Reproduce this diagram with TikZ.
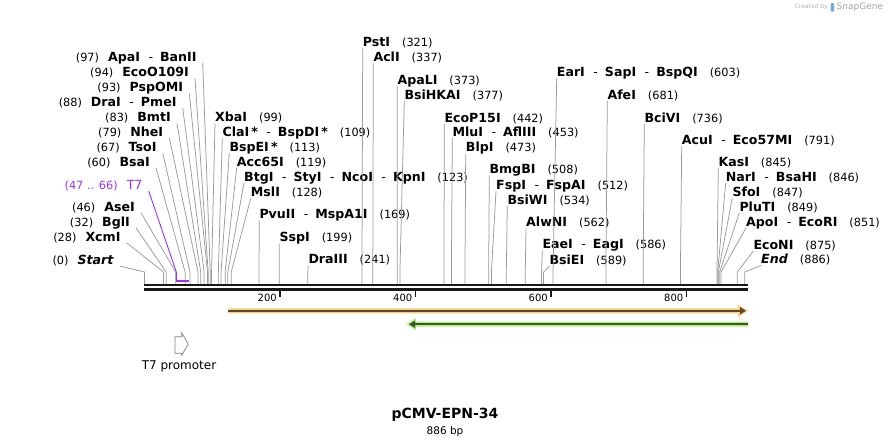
\documentclass[tikz,border=0pt]{standalone}
\usepackage{fontspec}
\setmainfont{DejaVu Sans}
\usetikzlibrary{arrows.meta,positioning}
\definecolor{cutgray}{RGB}{155,155,155}
\definecolor{tsevenpurple}{RGB}{155,50,245}
\definecolor{orangeband}{RGB}{251,203,128}
\definecolor{orangecore}{RGB}{92,74,44}
\definecolor{greenband}{RGB}{178,240,128}
\definecolor{greencore}{RGB}{62,84,44}
\definecolor{snapblue}{RGB}{110,170,225}
\newcommand{\enzsize}{\fontsize{12.6}{14}\selectfont}
\newcommand{\enzn}[1]{\textbf{#1}}
\newcommand{\enzc}[1]{{\fontsize{11.3}{13}\selectfont(#1)}}
\newcommand{\dsh}{\hspace{8.5pt}-\hspace{7pt}}
\newcommand{\enzgap}{\hspace{12pt}}
\tikzset{
     enz/.style={inner sep=0pt, font=\enzsize, yshift=-4.6pt},
     enzleft/.style={enz, anchor=base east},
     enzright/.style={enz, anchor=base west},
     cutline/.style={cutgray, line width=0.75pt},
     backbone/.style={black!90},
     ticklbl/.style={inner sep=0pt, anchor=east, font=\fontsize{10}{12}\selectfont},
    }

\begin{document}
\begin{tikzpicture}[x=1pt,y=-1pt]
        \useasboundingbox[fill=white] (0,0) rectangle (892,447);

        \node [enzleft] (apa)    at (196.7,56.7)  {\enzc{97}\hspace{9pt}\enzn{ApaI}\dsh\enzn{BanII}};
        \node [enzleft] (eco109) at (189,72.3)    {\enzc{94}\hspace{9pt}\enzn{EcoO109I}};
        \node [enzleft] (psp)    at (183.3,87.3)  {\enzc{93}\hspace{9pt}\enzn{PspOMI}};
        \node [enzleft] (dra)    at (176.7,101.7) {\enzc{88}\hspace{9pt}\enzn{DraI}\dsh\enzn{PmeI}};
        \node [enzleft] (bmt)    at (171,117.3)   {\enzc{83}\hspace{9pt}\enzn{BmtI}};
        \node [enzleft] (nhe)    at (163.3,131.7) {\enzc{79}\hspace{9pt}\enzn{NheI}};
        \node [enzleft] (tso)    at (156.7,146.7) {\enzc{67}\hspace{9pt}\enzn{TsoI}};
        \node [enzleft] (bsa)    at (150,161.7)   {\enzc{60}\hspace{9pt}\enzn{BsaI}};
        \node [enzleft, text=tsevenpurple] (tseven) at (142.7,185) {\enzc{47 .. 66}\hspace{9pt}T7};
        \node [enzleft] (ase)    at (135,206.7)   {\enzc{46}\hspace{9pt}\enzn{AseI}};
        \node [enzleft] (bgl)    at (130,221.7)   {\enzc{32}\hspace{9pt}\enzn{BglI}};
        \node [enzleft] (xcm)    at (120.7,236.7) {\enzc{28}\hspace{9pt}\enzn{XcmI}};
        \node [enzleft] (start)  at (114,260)     {\enzc{0}\hspace{9pt}\enzn{\itshape Start}};

        \node [enzright] (xba)    at (215,117.3)   {\enzn{XbaI}\enzgap\enzc{99}};
        \node [enzright] (cla)    at (222.3,131.7) {\enzn{ClaI\,*}\dsh\enzn{BspDI\,*}\enzgap\enzc{109}};
        \node [enzright] (bspe)   at (229.3,146.7) {\enzn{BspEI\,*}\enzgap\enzc{113}};
        \node [enzright] (acc)    at (236.7,161.7) {\enzn{Acc65I}\enzgap\enzc{119}};
        \node [enzright] (btg)    at (244,176.7)   {\enzn{BtgI}\dsh\enzn{StyI}\dsh\enzn{NcoI}\dsh\enzn{KpnI}\enzgap\enzc{123}};
        \node [enzright] (msl)    at (250.7,192.3) {\enzn{MslI}\enzgap\enzc{128}};
        \node [enzright] (pvu)    at (259.3,214.3) {\enzn{PvuII}\dsh\enzn{MspA1I}\enzgap\enzc{169}};
        \node [enzright] (ssp)    at (279.3,237.3) {\enzn{SspI}\enzgap\enzc{199}};
        \node [enzright] (draiii) at (308.3,259.3) {\enzn{DraIII}\enzgap\enzc{241}};
        \node [enzright] (pst)    at (362.7,42.3)  {\enzn{PstI}\enzgap\enzc{321}};
        \node [enzright] (acl)    at (373.3,57.3)  {\enzn{AclI}\enzgap\enzc{337}};
        \node [enzright] (apali)  at (397.3,80)    {\enzn{ApaLI}\enzgap\enzc{373}};
        \node [enzright] (bsihk)  at (404.3,95)    {\enzn{BsiHKAI}\enzgap\enzc{377}};
        \node [enzright] (ecop)   at (444.3,117.7) {\enzn{EcoP15I}\enzgap\enzc{442}};
        \node [enzright] (mlu)    at (452.3,131.7) {\enzn{MluI}\dsh\enzn{AflIII}\enzgap\enzc{453}};
        \node [enzright] (blp)    at (465.7,147.3) {\enzn{BlpI}\enzgap\enzc{473}};
        \node [enzright] (bmg)    at (489.3,169.3) {\enzn{BmgBI}\enzgap\enzc{508}};
        \node [enzright] (fsp)    at (496,185)     {\enzn{FspI}\dsh\enzn{FspAI}\enzgap\enzc{512}};
        \node [enzright] (bsiwi)  at (507.3,200)   {\enzn{BsiWI}\enzgap\enzc{534}};
        \node [enzright] (alw)    at (526,222.3)   {\enzn{AlwNI}\enzgap\enzc{562}};
        \node [enzright] (eae)    at (542.3,244.3) {\enzn{EaeI}\dsh\enzn{EagI}\enzgap\enzc{586}};
        \node [enzright] (bsiei)  at (549.3,260)   {\enzn{BsiEI}\enzgap\enzc{589}};
        \node [enzright] (ear)    at (556.7,71.7)  {\enzn{EarI}\dsh\enzn{SapI}\dsh\enzn{BspQI}\enzgap\enzc{603}};
        \node [enzright] (afe)    at (607.3,95)    {\enzn{AfeI}\enzgap\enzc{681}};
        \node [enzright] (bci)    at (644.3,117.7) {\enzn{BciVI}\enzgap\enzc{736}};
        \node [enzright] (acu)    at (681.7,140)   {\enzn{AcuI}\dsh\enzn{Eco57MI}\enzgap\enzc{791}};
        \node [enzright] (kas)    at (718.3,161.7) {\enzn{KasI}\enzgap\enzc{845}};
        \node [enzright] (nar)    at (725.7,176.7) {\enzn{NarI}\dsh\enzn{BsaHI}\enzgap\enzc{846}};
        \node [enzright] (sfo)    at (732.3,191.7) {\enzn{SfoI}\enzgap\enzc{847}};
        \node [enzright] (plu)    at (739.3,206.7) {\enzn{PluTI}\enzgap\enzc{849}};
        \node [enzright] (apo)    at (746,221.7)   {\enzn{ApoI}\dsh\enzn{EcoRI}\enzgap\enzc{851}};
        \node [enzright] (econi)  at (753.3,245)   {\enzn{EcoNI}\enzgap\enzc{875}};
        \node [enzright] (stop)   at (761,259.3)   {\enzn{\itshape End}\enzgap\enzc{886}};

        \coordinate (bb) at (144,284);
        \foreach \n/\s in {apa/97, eco109/94, psp/93, dra/88, bmt/83, nhe/79, tso/67,
                           bsa/60, ase/46, bgl/32, xcm/28, start/0} {
            \coordinate (c\n) at ({144.5+0.6775*\s},272);
            \draw [cutline] ([xshift=6pt,yshift=-1.5pt]\n.base east) -- (c\n) -- (c\n |- bb);
        }
        \foreach \n/\s in {xba/99, cla/109, bspe/113, acc/119, btg/123, msl/128, pvu/169,
                           ssp/199, draiii/241, pst/321, acl/337, apali/373, bsihk/377,
                           ecop/442, mlu/453, blp/473, bmg/508, fsp/512, bsiwi/534,
                           alw/562, eae/586, bsiei/589, ear/603, afe/681, bci/736,
                           acu/791, kas/845, nar/846, sfo/847, plu/849, apo/851,
                           econi/875, stop/886} {
            \coordinate (c\n) at ({144.5+0.6775*\s},272);
            \draw [cutline] ([yshift=-1.6pt]\n.base west) -- (c\n) -- (c\n |- bb);
        }

        \coordinate (tsa) at ({144.5+0.6775*47},272);
        \coordinate (tsb) at ({144.5+0.6775*66},281);
        \draw [tsevenpurple, line width=0.9pt] ([xshift=6pt,yshift=-1.5pt]tseven.base east) -- (tsa) -- (tsa |- tsb);
        \draw [tsevenpurple, line width=1.6pt] (tsa |- tsb) -- (tsb);

        \draw [backbone, line width=2.6pt] (144,285) -- (748,285);
        \draw [backbone, line width=2.3pt] (144,289.5) -- (748,289.5);
        \foreach \t in {200,400,600,800} {
            \draw [backbone, line width=1.6pt] ({144.5+0.6775*\t},290) -- ++(0,6.5);
            \node [ticklbl] (t\t) at ({141.5+0.6775*\t},297.5) {\t};
        }

        \fill [orangeband] (228.3,308.3) -- (738,308.3) -- (738,304.5) -- (748,310.8)
              -- (738,317.1) -- (738,313.3) -- (228.3,313.3) -- cycle;
        \draw [orangecore, line width=2pt, -{Triangle[length=6pt,width=7pt]}] (228.3,310.8) -- (746,310.8);
        \fill [greenband] (748.3,321.7) -- (416,321.7) -- (416,318) -- (406.5,324.2)
              -- (416,330.4) -- (416,326.7) -- (748.3,326.7) -- cycle;
        \draw [greencore, line width=2pt, -{Triangle[length=6pt,width=7pt]}] (748.3,324.2) -- (409,324.2);

        \draw [gray, line width=0.7pt] (175,336.7) -- (181.7,336.7) -- (181.7,332.7) -- (188.3,344.3)
              -- (181.7,355) -- (181.7,353.3) -- (175,353.3) -- cycle;
        \node [inner sep=0pt, font=\fontsize{12}{14}\selectfont] (tpro) at (179,366) {T7 promoter};

        \node [inner sep=0pt, font=\bfseries\fontsize{14}{16}\selectfont] (title) at (445,415) {pCMV-EPN-34};
        \node [inner sep=0pt, font=\fontsize{10.5}{12}\selectfont, below=4pt of title] (size) {886 bp};

        \node [inner sep=0pt, anchor=east, text=gray!60, font=\fontsize{6}{7}\selectfont] (credit) at (828,7) {Created by};
        \fill [snapblue, rounded corners=1pt] (830.5,3) rectangle (834,11.5);
        \node [inner sep=0pt, anchor=west, text=gray!70, font=\fontsize{9}{10}\selectfont] (snap) at (836.5,7) {SnapGene};
\end{tikzpicture}
\end{document}
